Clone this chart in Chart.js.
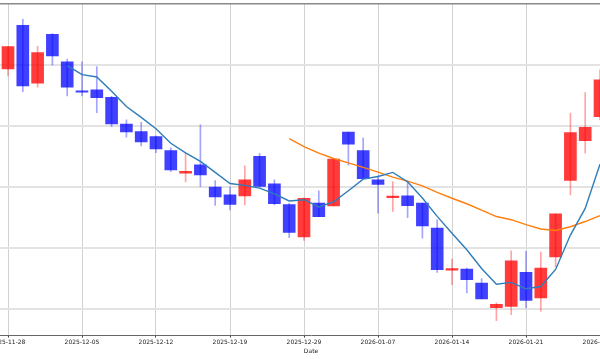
<!DOCTYPE html>
<html><head><meta charset="utf-8">
<script src="https://cdn.jsdelivr.net/npm/chart.js@4.4.1/dist/chart.umd.min.js"></script>
<style>
html,body{margin:0;padding:0;background:#fff;}
#wrap{position:relative;width:600px;height:359px;overflow:hidden;background:#fff;}
#c{position:absolute;left:-60px;top:0;}
</style></head><body>
<div id="wrap"><canvas id="c" width="742" height="359"></canvas></div>
<script>
const dates = ["2025-11-28","2025-12-01","2025-12-02","2025-12-03","2025-12-04","2025-12-05",
"2025-12-08","2025-12-09","2025-12-10","2025-12-11","2025-12-12",
"2025-12-15","2025-12-16","2025-12-17","2025-12-18","2025-12-19",
"2025-12-22","2025-12-23","2025-12-24","2025-12-26","2025-12-29",
"2025-12-30","2026-01-02","2026-01-05","2026-01-06","2026-01-07",
"2026-01-08","2026-01-09","2026-01-12","2026-01-13","2026-01-14",
"2026-01-15","2026-01-16","2026-01-19","2026-01-20","2026-01-21",
"2026-01-22","2026-01-23","2026-01-26","2026-01-27","2026-01-28"];
const openP  = [69.67,73.25,68.50,72.52,70.25,67.87,67.95,67.35,65.14,64.53,64.12,62.98,61.12,61.80,59.98,59.34,59.26,62.50,60.25,58.55,55.88,58.66,58.44,64.48,62.98,60.57,59.10,59.26,58.66,56.61,53.16,53.25,52.09,50.08,50.19,52.99,50.88,54.24,60.52,63.79,65.76];
const highP  = [71.50,73.75,71.53,72.58,70.49,70.25,69.86,67.42,65.49,65.30,64.18,63.20,62.76,65.08,60.52,60.00,61.72,62.75,60.57,58.65,59.10,59.67,62.27,64.48,63.99,60.90,60.43,60.43,58.66,57.29,54.07,53.34,52.46,50.47,54.75,54.70,54.65,57.79,66.04,67.73,69.59];
const lowP   = [69.10,67.81,68.17,69.98,67.46,67.46,66.09,64.94,64.07,63.36,62.81,61.25,60.41,60.02,58.47,58.11,58.52,59.98,58.52,55.82,55.60,57.54,58.44,61.78,60.66,57.84,57.98,57.46,55.79,52.97,51.97,51.29,50.79,49.02,49.51,50.06,49.79,53.44,59.34,62.76,65.49];
const closeP = [71.50,68.28,71.01,70.74,68.17,67.76,67.32,65.16,64.51,63.69,63.11,61.39,61.27,60.98,59.16,58.55,60.57,60.04,58.61,56.25,59.06,57.54,62.27,63.50,60.66,60.20,59.24,58.46,56.80,53.20,53.29,52.38,50.79,50.35,53.93,50.68,53.34,57.79,64.45,64.89,68.77];
const ma5  = [null,null,null,null,69.94,69.20,69.01,67.84,66.59,65.70,64.76,63.57,62.79,62.08,61.18,60.27,60.12,59.89,59.42,58.84,58.94,58.35,58.76,59.68,60.63,60.85,61.18,60.42,59.08,57.57,56.19,54.83,53.30,52.01,52.16,51.63,51.82,53.22,56.04,58.23,61.85];
const ma20 = [null,null,null,null,null,null,null,null,null,null,null,null,null,null,null,null,null,null,null,63.95,63.29,62.76,62.32,61.96,61.59,61.20,60.80,60.46,60.08,59.55,59.06,58.61,58.09,57.56,57.30,56.90,56.54,56.42,56.72,57.15,57.63];
const xTicks = [0,5,10,15,20,25,30,35,40];
const yGrid = [50,55,60,65,70,75];
const yMin = 47.79, yMax = 75;

const idx = dates.map((d,i)=>i);
const up = closeP.map((c,i)=> c >= openP[i]);
const bodyColor = up.map(u => u ? 'rgba(255,0,0,0.77)' : 'rgba(0,0,255,0.75)');
const wickColor = up.map(u => u ? 'rgba(255,30,30,0.4)' : 'rgba(30,30,255,0.4)');

new Chart(document.getElementById('c'), {
  type: 'bar',
  data: { datasets: [
    { type:'line', label:'MA5', data: idx.map(i=>({x:i,y:ma5[i]})), borderColor:'#2f7db8', borderWidth:1.4, pointRadius:0, tension:0, order:0 },
    { type:'line', label:'MA20', data: idx.map(i=>({x:i,y:ma20[i]})), borderColor:'#ff7f0e', borderWidth:1.4, pointRadius:0, tension:0, order:1 },
    { label:'body', data: idx.map(i=>({x:i,y:[openP[i],closeP[i]]})), backgroundColor: bodyColor, barThickness:12, grouped:false, minBarLength:1.5, order:2 },
    { label:'wick', data: idx.map(i=>({x:i,y:[lowP[i],highP[i]]})), backgroundColor: wickColor, barThickness:1, grouped:false, order:3 }
  ]},
  options: {
    responsive:false, animation:false, devicePixelRatio:1,
    layout:{padding:{top:4,bottom:4,left:0,right:0}},
    plugins:{legend:{display:false}, tooltip:{enabled:false}},
    scales:{
      x:{ type:'linear', min:-68/14.8, max:(742-68)/14.8, offset:false,
        afterBuildTicks: s => { s.ticks = xTicks.map(v=>({value:v})); },
        grid:{offset:false, color:'#d2d2d2', lineWidth:1, tickLength:2, tickColor:'#444', drawTicks:true},
        border:{display:true, color:'#666', width:1},
        ticks:{font:{family:'DejaVu Sans', size:6}, color:'#222', padding:1, maxRotation:0, autoSkip:false, callback: v => dates[v]},
        title:{display:true, text:'Date', font:{family:'DejaVu Sans', size:6}, color:'#222', padding:{top:1,bottom:0}}
      },
      y:{ type:'linear', min:yMin, max:yMax, beginAtZero:false,
        afterBuildTicks: s => { s.ticks = yGrid.map(v=>({value:v})); },
        ticks:{display:false}, border:{display:false},
        grid:{drawTicks:false, color: c => (c.tick && c.tick.value===yMax) ? '#8a8a8a' : '#e3e3e3', lineWidth: c => (c.tick && c.tick.value===yMax) ? 1.5 : 2}
      }
    }
  }
});
</script>
</body></html>
